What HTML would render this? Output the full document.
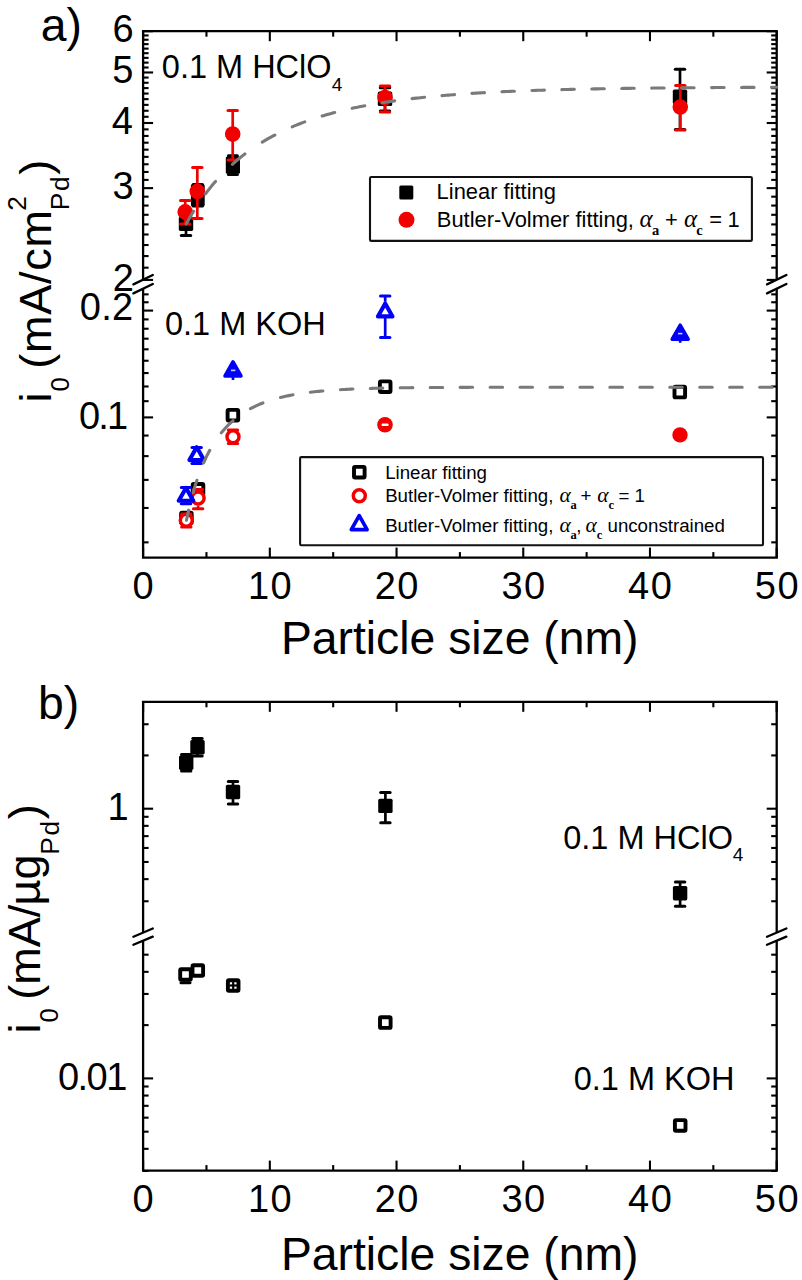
<!DOCTYPE html>
<html><head><meta charset="utf-8"><style>
html,body{margin:0;padding:0;background:#fff;}
svg{display:block;}
</style></head><body>
<svg width="802" height="1280" viewBox="0 0 802 1280">
<line x1="141.95" y1="31.20" x2="777.85" y2="31.20" stroke="#000" stroke-width="2.3" />
<line x1="141.95" y1="557.60" x2="777.85" y2="557.60" stroke="#000" stroke-width="2.3" />
<line x1="143.10" y1="31.20" x2="143.10" y2="279.60" stroke="#000" stroke-width="2.3" />
<line x1="143.10" y1="289.00" x2="143.10" y2="557.60" stroke="#000" stroke-width="2.3" />
<line x1="133.40" y1="284.40" x2="152.80" y2="275.00" stroke="#000" stroke-width="2.3" stroke-linecap="round"/>
<line x1="133.40" y1="293.40" x2="152.80" y2="284.00" stroke="#000" stroke-width="2.3" stroke-linecap="round"/>
<line x1="776.70" y1="31.20" x2="776.70" y2="279.60" stroke="#000" stroke-width="2.3" />
<line x1="776.70" y1="289.00" x2="776.70" y2="557.60" stroke="#000" stroke-width="2.3" />
<line x1="767.00" y1="284.40" x2="786.40" y2="275.00" stroke="#000" stroke-width="2.3" stroke-linecap="round"/>
<line x1="767.00" y1="293.40" x2="786.40" y2="284.00" stroke="#000" stroke-width="2.3" stroke-linecap="round"/>
<line x1="143.10" y1="557.60" x2="143.10" y2="547.60" stroke="#000" stroke-width="2.1" />
<line x1="143.10" y1="31.20" x2="143.10" y2="41.20" stroke="#000" stroke-width="2.1" />
<line x1="206.46" y1="557.60" x2="206.46" y2="552.10" stroke="#000" stroke-width="2.1" />
<line x1="206.46" y1="31.20" x2="206.46" y2="36.70" stroke="#000" stroke-width="2.1" />
<line x1="269.82" y1="557.60" x2="269.82" y2="547.60" stroke="#000" stroke-width="2.1" />
<line x1="269.82" y1="31.20" x2="269.82" y2="41.20" stroke="#000" stroke-width="2.1" />
<line x1="333.18" y1="557.60" x2="333.18" y2="552.10" stroke="#000" stroke-width="2.1" />
<line x1="333.18" y1="31.20" x2="333.18" y2="36.70" stroke="#000" stroke-width="2.1" />
<line x1="396.54" y1="557.60" x2="396.54" y2="547.60" stroke="#000" stroke-width="2.1" />
<line x1="396.54" y1="31.20" x2="396.54" y2="41.20" stroke="#000" stroke-width="2.1" />
<line x1="459.90" y1="557.60" x2="459.90" y2="552.10" stroke="#000" stroke-width="2.1" />
<line x1="459.90" y1="31.20" x2="459.90" y2="36.70" stroke="#000" stroke-width="2.1" />
<line x1="523.26" y1="557.60" x2="523.26" y2="547.60" stroke="#000" stroke-width="2.1" />
<line x1="523.26" y1="31.20" x2="523.26" y2="41.20" stroke="#000" stroke-width="2.1" />
<line x1="586.62" y1="557.60" x2="586.62" y2="552.10" stroke="#000" stroke-width="2.1" />
<line x1="586.62" y1="31.20" x2="586.62" y2="36.70" stroke="#000" stroke-width="2.1" />
<line x1="649.98" y1="557.60" x2="649.98" y2="547.60" stroke="#000" stroke-width="2.1" />
<line x1="649.98" y1="31.20" x2="649.98" y2="41.20" stroke="#000" stroke-width="2.1" />
<line x1="713.34" y1="557.60" x2="713.34" y2="552.10" stroke="#000" stroke-width="2.1" />
<line x1="713.34" y1="31.20" x2="713.34" y2="36.70" stroke="#000" stroke-width="2.1" />
<line x1="776.70" y1="557.60" x2="776.70" y2="547.60" stroke="#000" stroke-width="2.1" />
<line x1="776.70" y1="31.20" x2="776.70" y2="41.20" stroke="#000" stroke-width="2.1" />
<line x1="143.10" y1="279.92" x2="153.10" y2="279.92" stroke="#000" stroke-width="2.1" />
<line x1="776.70" y1="279.92" x2="766.70" y2="279.92" stroke="#000" stroke-width="2.1" />
<line x1="143.10" y1="267.68" x2="148.60" y2="267.68" stroke="#000" stroke-width="2.1" />
<line x1="776.70" y1="267.68" x2="771.20" y2="267.68" stroke="#000" stroke-width="2.1" />
<line x1="143.10" y1="256.07" x2="148.60" y2="256.07" stroke="#000" stroke-width="2.1" />
<line x1="776.70" y1="256.07" x2="771.20" y2="256.07" stroke="#000" stroke-width="2.1" />
<line x1="143.10" y1="245.02" x2="148.60" y2="245.02" stroke="#000" stroke-width="2.1" />
<line x1="776.70" y1="245.02" x2="771.20" y2="245.02" stroke="#000" stroke-width="2.1" />
<line x1="143.10" y1="234.49" x2="148.60" y2="234.49" stroke="#000" stroke-width="2.1" />
<line x1="776.70" y1="234.49" x2="771.20" y2="234.49" stroke="#000" stroke-width="2.1" />
<line x1="143.10" y1="224.43" x2="148.60" y2="224.43" stroke="#000" stroke-width="2.1" />
<line x1="776.70" y1="224.43" x2="771.20" y2="224.43" stroke="#000" stroke-width="2.1" />
<line x1="143.10" y1="214.79" x2="148.60" y2="214.79" stroke="#000" stroke-width="2.1" />
<line x1="776.70" y1="214.79" x2="771.20" y2="214.79" stroke="#000" stroke-width="2.1" />
<line x1="143.10" y1="205.55" x2="148.60" y2="205.55" stroke="#000" stroke-width="2.1" />
<line x1="776.70" y1="205.55" x2="771.20" y2="205.55" stroke="#000" stroke-width="2.1" />
<line x1="143.10" y1="196.67" x2="148.60" y2="196.67" stroke="#000" stroke-width="2.1" />
<line x1="776.70" y1="196.67" x2="771.20" y2="196.67" stroke="#000" stroke-width="2.1" />
<line x1="143.10" y1="188.13" x2="153.10" y2="188.13" stroke="#000" stroke-width="2.1" />
<line x1="776.70" y1="188.13" x2="766.70" y2="188.13" stroke="#000" stroke-width="2.1" />
<line x1="143.10" y1="179.89" x2="148.60" y2="179.89" stroke="#000" stroke-width="2.1" />
<line x1="776.70" y1="179.89" x2="771.20" y2="179.89" stroke="#000" stroke-width="2.1" />
<line x1="143.10" y1="171.95" x2="148.60" y2="171.95" stroke="#000" stroke-width="2.1" />
<line x1="776.70" y1="171.95" x2="771.20" y2="171.95" stroke="#000" stroke-width="2.1" />
<line x1="143.10" y1="164.27" x2="148.60" y2="164.27" stroke="#000" stroke-width="2.1" />
<line x1="776.70" y1="164.27" x2="771.20" y2="164.27" stroke="#000" stroke-width="2.1" />
<line x1="143.10" y1="156.85" x2="148.60" y2="156.85" stroke="#000" stroke-width="2.1" />
<line x1="776.70" y1="156.85" x2="771.20" y2="156.85" stroke="#000" stroke-width="2.1" />
<line x1="143.10" y1="149.66" x2="148.60" y2="149.66" stroke="#000" stroke-width="2.1" />
<line x1="776.70" y1="149.66" x2="771.20" y2="149.66" stroke="#000" stroke-width="2.1" />
<line x1="143.10" y1="142.70" x2="148.60" y2="142.70" stroke="#000" stroke-width="2.1" />
<line x1="776.70" y1="142.70" x2="771.20" y2="142.70" stroke="#000" stroke-width="2.1" />
<line x1="143.10" y1="135.94" x2="148.60" y2="135.94" stroke="#000" stroke-width="2.1" />
<line x1="776.70" y1="135.94" x2="771.20" y2="135.94" stroke="#000" stroke-width="2.1" />
<line x1="143.10" y1="129.37" x2="148.60" y2="129.37" stroke="#000" stroke-width="2.1" />
<line x1="776.70" y1="129.37" x2="771.20" y2="129.37" stroke="#000" stroke-width="2.1" />
<line x1="143.10" y1="123.00" x2="153.10" y2="123.00" stroke="#000" stroke-width="2.1" />
<line x1="776.70" y1="123.00" x2="766.70" y2="123.00" stroke="#000" stroke-width="2.1" />
<line x1="143.10" y1="116.79" x2="148.60" y2="116.79" stroke="#000" stroke-width="2.1" />
<line x1="776.70" y1="116.79" x2="771.20" y2="116.79" stroke="#000" stroke-width="2.1" />
<line x1="143.10" y1="110.76" x2="148.60" y2="110.76" stroke="#000" stroke-width="2.1" />
<line x1="776.70" y1="110.76" x2="771.20" y2="110.76" stroke="#000" stroke-width="2.1" />
<line x1="143.10" y1="104.87" x2="148.60" y2="104.87" stroke="#000" stroke-width="2.1" />
<line x1="776.70" y1="104.87" x2="771.20" y2="104.87" stroke="#000" stroke-width="2.1" />
<line x1="143.10" y1="99.14" x2="148.60" y2="99.14" stroke="#000" stroke-width="2.1" />
<line x1="776.70" y1="99.14" x2="771.20" y2="99.14" stroke="#000" stroke-width="2.1" />
<line x1="143.10" y1="93.55" x2="148.60" y2="93.55" stroke="#000" stroke-width="2.1" />
<line x1="776.70" y1="93.55" x2="771.20" y2="93.55" stroke="#000" stroke-width="2.1" />
<line x1="143.10" y1="88.10" x2="148.60" y2="88.10" stroke="#000" stroke-width="2.1" />
<line x1="776.70" y1="88.10" x2="771.20" y2="88.10" stroke="#000" stroke-width="2.1" />
<line x1="143.10" y1="82.77" x2="148.60" y2="82.77" stroke="#000" stroke-width="2.1" />
<line x1="776.70" y1="82.77" x2="771.20" y2="82.77" stroke="#000" stroke-width="2.1" />
<line x1="143.10" y1="77.56" x2="148.60" y2="77.56" stroke="#000" stroke-width="2.1" />
<line x1="776.70" y1="77.56" x2="771.20" y2="77.56" stroke="#000" stroke-width="2.1" />
<line x1="143.10" y1="72.48" x2="153.10" y2="72.48" stroke="#000" stroke-width="2.1" />
<line x1="776.70" y1="72.48" x2="766.70" y2="72.48" stroke="#000" stroke-width="2.1" />
<line x1="143.10" y1="67.50" x2="148.60" y2="67.50" stroke="#000" stroke-width="2.1" />
<line x1="776.70" y1="67.50" x2="771.20" y2="67.50" stroke="#000" stroke-width="2.1" />
<line x1="143.10" y1="62.63" x2="148.60" y2="62.63" stroke="#000" stroke-width="2.1" />
<line x1="776.70" y1="62.63" x2="771.20" y2="62.63" stroke="#000" stroke-width="2.1" />
<line x1="143.10" y1="57.87" x2="148.60" y2="57.87" stroke="#000" stroke-width="2.1" />
<line x1="776.70" y1="57.87" x2="771.20" y2="57.87" stroke="#000" stroke-width="2.1" />
<line x1="143.10" y1="53.20" x2="148.60" y2="53.20" stroke="#000" stroke-width="2.1" />
<line x1="776.70" y1="53.20" x2="771.20" y2="53.20" stroke="#000" stroke-width="2.1" />
<line x1="143.10" y1="48.62" x2="148.60" y2="48.62" stroke="#000" stroke-width="2.1" />
<line x1="776.70" y1="48.62" x2="771.20" y2="48.62" stroke="#000" stroke-width="2.1" />
<line x1="143.10" y1="44.14" x2="148.60" y2="44.14" stroke="#000" stroke-width="2.1" />
<line x1="776.70" y1="44.14" x2="771.20" y2="44.14" stroke="#000" stroke-width="2.1" />
<line x1="143.10" y1="39.74" x2="148.60" y2="39.74" stroke="#000" stroke-width="2.1" />
<line x1="776.70" y1="39.74" x2="771.20" y2="39.74" stroke="#000" stroke-width="2.1" />
<line x1="143.10" y1="35.43" x2="148.60" y2="35.43" stroke="#000" stroke-width="2.1" />
<line x1="776.70" y1="35.43" x2="771.20" y2="35.43" stroke="#000" stroke-width="2.1" />
<line x1="143.10" y1="31.20" x2="153.10" y2="31.20" stroke="#000" stroke-width="2.1" />
<line x1="776.70" y1="31.20" x2="766.70" y2="31.20" stroke="#000" stroke-width="2.1" />
<line x1="143.10" y1="542.35" x2="148.60" y2="542.35" stroke="#000" stroke-width="2.1" />
<line x1="776.70" y1="542.35" x2="771.20" y2="542.35" stroke="#000" stroke-width="2.1" />
<line x1="143.10" y1="507.97" x2="148.60" y2="507.97" stroke="#000" stroke-width="2.1" />
<line x1="776.70" y1="507.97" x2="771.20" y2="507.97" stroke="#000" stroke-width="2.1" />
<line x1="143.10" y1="479.88" x2="148.60" y2="479.88" stroke="#000" stroke-width="2.1" />
<line x1="776.70" y1="479.88" x2="771.20" y2="479.88" stroke="#000" stroke-width="2.1" />
<line x1="143.10" y1="456.12" x2="148.60" y2="456.12" stroke="#000" stroke-width="2.1" />
<line x1="776.70" y1="456.12" x2="771.20" y2="456.12" stroke="#000" stroke-width="2.1" />
<line x1="143.10" y1="435.55" x2="148.60" y2="435.55" stroke="#000" stroke-width="2.1" />
<line x1="776.70" y1="435.55" x2="771.20" y2="435.55" stroke="#000" stroke-width="2.1" />
<line x1="143.10" y1="417.40" x2="153.10" y2="417.40" stroke="#000" stroke-width="2.1" />
<line x1="776.70" y1="417.40" x2="766.70" y2="417.40" stroke="#000" stroke-width="2.1" />
<line x1="143.10" y1="401.17" x2="148.60" y2="401.17" stroke="#000" stroke-width="2.1" />
<line x1="776.70" y1="401.17" x2="771.20" y2="401.17" stroke="#000" stroke-width="2.1" />
<line x1="143.10" y1="386.48" x2="148.60" y2="386.48" stroke="#000" stroke-width="2.1" />
<line x1="776.70" y1="386.48" x2="771.20" y2="386.48" stroke="#000" stroke-width="2.1" />
<line x1="143.10" y1="373.07" x2="148.60" y2="373.07" stroke="#000" stroke-width="2.1" />
<line x1="776.70" y1="373.07" x2="771.20" y2="373.07" stroke="#000" stroke-width="2.1" />
<line x1="143.10" y1="360.74" x2="148.60" y2="360.74" stroke="#000" stroke-width="2.1" />
<line x1="776.70" y1="360.74" x2="771.20" y2="360.74" stroke="#000" stroke-width="2.1" />
<line x1="143.10" y1="349.32" x2="148.60" y2="349.32" stroke="#000" stroke-width="2.1" />
<line x1="776.70" y1="349.32" x2="771.20" y2="349.32" stroke="#000" stroke-width="2.1" />
<line x1="143.10" y1="338.69" x2="148.60" y2="338.69" stroke="#000" stroke-width="2.1" />
<line x1="776.70" y1="338.69" x2="771.20" y2="338.69" stroke="#000" stroke-width="2.1" />
<line x1="143.10" y1="328.74" x2="148.60" y2="328.74" stroke="#000" stroke-width="2.1" />
<line x1="776.70" y1="328.74" x2="771.20" y2="328.74" stroke="#000" stroke-width="2.1" />
<line x1="143.10" y1="319.40" x2="148.60" y2="319.40" stroke="#000" stroke-width="2.1" />
<line x1="776.70" y1="319.40" x2="771.20" y2="319.40" stroke="#000" stroke-width="2.1" />
<line x1="143.10" y1="310.59" x2="153.10" y2="310.59" stroke="#000" stroke-width="2.1" />
<line x1="776.70" y1="310.59" x2="766.70" y2="310.59" stroke="#000" stroke-width="2.1" />
<line x1="143.10" y1="302.26" x2="148.60" y2="302.26" stroke="#000" stroke-width="2.1" />
<line x1="776.70" y1="302.26" x2="771.20" y2="302.26" stroke="#000" stroke-width="2.1" />
<line x1="143.10" y1="294.36" x2="148.60" y2="294.36" stroke="#000" stroke-width="2.1" />
<line x1="776.70" y1="294.36" x2="771.20" y2="294.36" stroke="#000" stroke-width="2.1" />
<text x="133.57" y="41.80" font-family="Liberation Sans" font-size="38" text-anchor="end" >6</text>
<text x="133.50" y="82.80" font-family="Liberation Sans" font-size="38" text-anchor="end" >5</text>
<text x="133.01" y="134.10" font-family="Liberation Sans" font-size="38" text-anchor="end" >4</text>
<text x="133.57" y="198.50" font-family="Liberation Sans" font-size="38" text-anchor="end" >3</text>
<text x="133.81" y="290.50" font-family="Liberation Sans" font-size="38" text-anchor="end" >2</text>
<text x="79.72" y="320.10" font-family="Liberation Sans" font-size="38" text-anchor="start" textLength="53.42" lengthAdjust="spacing" >0.2</text>
<text x="79.02" y="428.80" font-family="Liberation Sans" font-size="38" text-anchor="start" textLength="49.02" lengthAdjust="spacing" >0.1</text>
<text x="143.10" y="598.80" font-family="Liberation Sans" font-size="38" text-anchor="middle" >0</text>
<text x="269.82" y="598.80" font-family="Liberation Sans" font-size="38" text-anchor="middle" textLength="43.76" lengthAdjust="spacing" >10</text>
<text x="396.54" y="598.80" font-family="Liberation Sans" font-size="38" text-anchor="middle" textLength="43.76" lengthAdjust="spacing" >20</text>
<text x="523.26" y="598.80" font-family="Liberation Sans" font-size="38" text-anchor="middle" textLength="43.76" lengthAdjust="spacing" >30</text>
<text x="649.98" y="598.80" font-family="Liberation Sans" font-size="38" text-anchor="middle" textLength="43.76" lengthAdjust="spacing" >40</text>
<text x="776.70" y="598.80" font-family="Liberation Sans" font-size="38" text-anchor="middle" textLength="43.76" lengthAdjust="spacing" >50</text>
<text x="280.90" y="653.90" font-family="Liberation Sans" font-size="46.3" text-anchor="start" >Particle size (nm)</text>
<text x="40.73" y="40.60" font-family="Liberation Sans" font-size="46.3" text-anchor="start" >a)</text>
<g transform="translate(50.5,400) rotate(-90)"><text x="-2.51" y="0" font-family="Liberation Sans" font-size="45">i</text><text x="8.50" y="18.3" font-family="Liberation Sans" font-size="25.5">0</text><text x="31.21" y="0" font-family="Liberation Sans" font-size="45" textLength="158.8" lengthAdjust="spacing">(mA/cm</text><text x="189.28" y="-24.2" font-family="Liberation Sans" font-size="26.3">2</text><text x="189.84" y="18.6" font-family="Liberation Sans" font-size="26.3" textLength="33.9" lengthAdjust="spacing">Pd</text><text x="225.34" y="0" font-family="Liberation Sans" font-size="45">)</text></g>
<text x="161.83" y="77.60" font-family="Liberation Sans" font-size="32.5" text-anchor="start" >0.1 M HClO</text>
<text x="331.66" y="90.80" font-family="Liberation Sans" font-size="19" text-anchor="start" >4</text>
<text x="164.93" y="335.10" font-family="Liberation Sans" font-size="32.5" text-anchor="start" >0.1 M KOH</text>
<line x1="186.00" y1="212.00" x2="186.00" y2="235.60" stroke="#000" stroke-width="2.7" />
<line x1="181.30" y1="212.00" x2="190.70" y2="212.00" stroke="#000" stroke-width="3.0" stroke-linecap="round"/>
<line x1="181.30" y1="235.60" x2="190.70" y2="235.60" stroke="#000" stroke-width="3.0" stroke-linecap="round"/>
<rect x="178.80" y="216.50" width="14.4" height="14.4" rx="1.6" fill="#000"/>
<line x1="385.00" y1="87.80" x2="385.00" y2="111.00" stroke="#000" stroke-width="2.7" />
<line x1="380.30" y1="87.80" x2="389.70" y2="87.80" stroke="#000" stroke-width="3.0" stroke-linecap="round"/>
<line x1="380.30" y1="111.00" x2="389.70" y2="111.00" stroke="#000" stroke-width="3.0" stroke-linecap="round"/>
<rect x="377.80" y="91.60" width="14.4" height="14.4" rx="1.6" fill="#000"/>
<line x1="680.00" y1="69.30" x2="680.00" y2="129.50" stroke="#000" stroke-width="2.7" />
<line x1="675.30" y1="69.30" x2="684.70" y2="69.30" stroke="#000" stroke-width="3.0" stroke-linecap="round"/>
<line x1="675.30" y1="129.50" x2="684.70" y2="129.50" stroke="#000" stroke-width="3.0" stroke-linecap="round"/>
<rect x="672.80" y="89.60" width="14.4" height="14.4" rx="1.6" fill="#000"/>
<rect x="190.9" y="184.2" width="13.8" height="22.2" rx="1.6" fill="#000"/>
<line x1="197.80" y1="184.60" x2="197.80" y2="206.10" stroke="#000" stroke-width="2.7" />
<line x1="193.10" y1="184.60" x2="202.50" y2="184.60" stroke="#000" stroke-width="3.0" stroke-linecap="round"/>
<line x1="193.10" y1="206.10" x2="202.50" y2="206.10" stroke="#000" stroke-width="3.0" stroke-linecap="round"/>
<rect x="225.8" y="156.4" width="14.2" height="17.4" rx="1.6" fill="#000"/>
<line x1="232.90" y1="155.80" x2="232.90" y2="174.50" stroke="#000" stroke-width="2.7" />
<line x1="228.40" y1="155.80" x2="237.40" y2="155.80" stroke="#000" stroke-width="3.0" stroke-linecap="round"/>
<line x1="228.40" y1="174.50" x2="237.40" y2="174.50" stroke="#000" stroke-width="3.0" stroke-linecap="round"/>
<line x1="185.20" y1="200.60" x2="185.20" y2="224.00" stroke="#f20000" stroke-width="2.7" />
<line x1="180.50" y1="200.60" x2="189.90" y2="200.60" stroke="#f20000" stroke-width="3.0" stroke-linecap="round"/>
<line x1="180.50" y1="224.00" x2="189.90" y2="224.00" stroke="#f20000" stroke-width="3.0" stroke-linecap="round"/>
<circle cx="185.20" cy="211.90" r="7.8" fill="#f20000"/>
<line x1="197.30" y1="167.50" x2="197.30" y2="218.40" stroke="#f20000" stroke-width="2.7" />
<line x1="192.60" y1="167.50" x2="202.00" y2="167.50" stroke="#f20000" stroke-width="3.0" stroke-linecap="round"/>
<line x1="192.60" y1="218.40" x2="202.00" y2="218.40" stroke="#f20000" stroke-width="3.0" stroke-linecap="round"/>
<circle cx="197.30" cy="191.40" r="7.8" fill="#f20000"/>
<line x1="232.70" y1="110.50" x2="232.70" y2="160.00" stroke="#f20000" stroke-width="2.7" />
<line x1="228.00" y1="110.50" x2="237.40" y2="110.50" stroke="#f20000" stroke-width="3.0" stroke-linecap="round"/>
<line x1="228.00" y1="160.00" x2="237.40" y2="160.00" stroke="#f20000" stroke-width="3.0" stroke-linecap="round"/>
<circle cx="232.70" cy="134.10" r="7.8" fill="#f20000"/>
<line x1="385.00" y1="86.00" x2="385.00" y2="112.00" stroke="#f20000" stroke-width="2.7" />
<line x1="380.30" y1="86.00" x2="389.70" y2="86.00" stroke="#f20000" stroke-width="3.0" stroke-linecap="round"/>
<line x1="380.30" y1="112.00" x2="389.70" y2="112.00" stroke="#f20000" stroke-width="3.0" stroke-linecap="round"/>
<circle cx="385.00" cy="97.50" r="7.8" fill="#f20000"/>
<line x1="680.30" y1="85.40" x2="680.30" y2="130.00" stroke="#f20000" stroke-width="2.7" />
<line x1="675.60" y1="85.40" x2="685.00" y2="85.40" stroke="#f20000" stroke-width="3.0" stroke-linecap="round"/>
<line x1="675.60" y1="130.00" x2="685.00" y2="130.00" stroke="#f20000" stroke-width="3.0" stroke-linecap="round"/>
<circle cx="680.30" cy="107.00" r="7.8" fill="#f20000"/>
<rect x="181.10" y="512.70" width="10.6" height="10.6" rx="1" fill="#fff" stroke="#000" stroke-width="3.9"/>
<rect x="192.70" y="484.00" width="10.6" height="10.6" rx="1" fill="#fff" stroke="#000" stroke-width="3.9"/>
<rect x="227.60" y="409.90" width="10.6" height="10.6" rx="1" fill="#fff" stroke="#000" stroke-width="3.9"/>
<rect x="379.90" y="381.40" width="10.6" height="10.6" rx="1" fill="#fff" stroke="#000" stroke-width="3.9"/>
<rect x="674.50" y="386.80" width="10.6" height="10.6" rx="1" fill="#fff" stroke="#000" stroke-width="3.9"/>
<line x1="181.60" y1="514.00" x2="191.00" y2="514.00" stroke="#f20000" stroke-width="3.0" stroke-linecap="round"/>
<line x1="181.60" y1="527.00" x2="191.00" y2="527.00" stroke="#f20000" stroke-width="3.0" stroke-linecap="round"/>
<circle cx="186.30" cy="520.20" r="6.0" fill="#fff" stroke="#f20000" stroke-width="3.5"/>
<line x1="198.10" y1="489.50" x2="198.10" y2="490.60" stroke="#f20000" stroke-width="2.7" />
<line x1="198.10" y1="505.60" x2="198.10" y2="508.70" stroke="#f20000" stroke-width="2.7" />
<line x1="193.40" y1="489.50" x2="202.80" y2="489.50" stroke="#f20000" stroke-width="3.0" stroke-linecap="round"/>
<line x1="193.40" y1="508.70" x2="202.80" y2="508.70" stroke="#f20000" stroke-width="3.0" stroke-linecap="round"/>
<circle cx="198.10" cy="498.10" r="6.0" fill="#fff" stroke="#f20000" stroke-width="3.5"/>
<line x1="228.30" y1="430.00" x2="237.70" y2="430.00" stroke="#f20000" stroke-width="3.0" stroke-linecap="round"/>
<line x1="228.30" y1="443.50" x2="237.70" y2="443.50" stroke="#f20000" stroke-width="3.0" stroke-linecap="round"/>
<circle cx="233.00" cy="436.70" r="6.0" fill="#fff" stroke="#f20000" stroke-width="3.5"/>
<circle cx="385.00" cy="424.80" r="7.8" fill="#f20000"/>
<rect x="381.6" y="423.6" width="7" height="2.5" rx="0.8" fill="#fff"/>
<circle cx="680.00" cy="434.90" r="7.7" fill="#f20000"/>
<line x1="186.00" y1="502.40" x2="186.00" y2="503.70" stroke="#0000f5" stroke-width="2.7" />
<line x1="181.30" y1="487.40" x2="190.70" y2="487.40" stroke="#0000f5" stroke-width="3.0" stroke-linecap="round"/>
<line x1="181.30" y1="503.70" x2="190.70" y2="503.70" stroke="#0000f5" stroke-width="3.0" stroke-linecap="round"/>
<path d="M186.00 487.90 L193.30 500.80 L178.70 500.80 Z" fill="#fff" stroke="#0000f5" stroke-width="4.1" stroke-linejoin="round"/>
<line x1="196.70" y1="461.70" x2="196.70" y2="463.60" stroke="#0000f5" stroke-width="2.7" />
<line x1="192.00" y1="447.60" x2="201.40" y2="447.60" stroke="#0000f5" stroke-width="3.0" stroke-linecap="round"/>
<line x1="192.00" y1="463.60" x2="201.40" y2="463.60" stroke="#0000f5" stroke-width="3.0" stroke-linecap="round"/>
<path d="M196.70 447.20 L204.00 460.10 L189.40 460.10 Z" fill="#fff" stroke="#0000f5" stroke-width="4.1" stroke-linejoin="round"/>
<line x1="385.20" y1="295.90" x2="385.20" y2="301.70" stroke="#0000f5" stroke-width="2.7" />
<line x1="385.20" y1="318.00" x2="385.20" y2="337.50" stroke="#0000f5" stroke-width="2.7" />
<line x1="380.50" y1="295.90" x2="389.90" y2="295.90" stroke="#0000f5" stroke-width="3.0" stroke-linecap="round"/>
<line x1="380.50" y1="337.50" x2="389.90" y2="337.50" stroke="#0000f5" stroke-width="3.0" stroke-linecap="round"/>
<path d="M385.20 303.50 L392.50 316.40 L377.90 316.40 Z" fill="#fff" stroke="#0000f5" stroke-width="4.1" stroke-linejoin="round"/>
<path d="M233.00 362.00 L240.90 375.90 L225.10 375.90 Z" fill="#0000f5" stroke="#0000f5" stroke-width="3.7" stroke-linejoin="round"/>
<rect x="231" y="369.6" width="4.4" height="1.6" fill="#fff" opacity="0.8"/>
<line x1="233.00" y1="376.00" x2="233.00" y2="380.00" stroke="#0000f5" stroke-width="2.7" />
<path d="M680.20 325.30 L688.10 339.20 L672.30 339.20 Z" fill="#0000f5" stroke="#0000f5" stroke-width="3.7" stroke-linejoin="round"/>
<rect x="678" y="332.8" width="4.4" height="1.6" fill="#fff" opacity="0.8"/>
<line x1="680.20" y1="339.00" x2="680.20" y2="342.80" stroke="#0000f5" stroke-width="2.7" />
<path d="M186.30 223.84 L187.48 221.69 L188.66 219.59 L189.84 217.54 L191.02 215.52 L192.20 213.54 L193.38 211.61 L193.58 211.29 M205.50 193.80 L207.17 191.60 L208.84 189.46 L210.52 187.37 L212.19 185.33 L213.87 183.34 L215.54 181.40 L215.54 181.40 M232.38 164.31 L234.45 162.48 L236.51 160.70 L238.58 158.96 L240.65 157.28 L242.72 155.64 L244.78 154.04 L244.88 153.96 M262.31 142.09 L264.38 140.85 L266.45 139.64 L268.51 138.45 L270.58 137.30 L272.65 136.18 L274.72 135.08 L274.82 135.03 M292.25 126.81 L294.31 125.94 L296.38 125.10 L298.45 124.27 L300.52 123.46 L302.58 122.67 L304.65 121.90 L304.75 121.86 M322.18 116.04 L324.25 115.42 L326.31 114.82 L328.38 114.23 L330.45 113.65 L332.52 113.08 L334.59 112.53 L334.68 112.51 M352.21 108.30 L354.28 107.85 L356.35 107.41 L358.41 106.99 L360.48 106.57 L362.55 106.16 L364.62 105.76 L364.72 105.74 M382.15 102.70 L384.21 102.38 L386.28 102.06 L388.35 101.75 L390.42 101.44 L392.48 101.15 L394.55 100.85 L394.65 100.84 M412.08 98.62 L414.15 98.38 L416.21 98.14 L418.28 97.92 L420.35 97.69 L422.42 97.47 L424.49 97.26 L424.58 97.25 M442.01 95.61 L444.08 95.43 L446.15 95.26 L448.22 95.09 L450.28 94.93 L452.35 94.77 L454.42 94.61 L454.52 94.60 M471.95 93.39 L474.01 93.26 L476.08 93.14 L478.15 93.01 L480.22 92.89 L482.29 92.77 L484.35 92.65 L484.45 92.65 M501.88 91.75 L503.95 91.65 L506.02 91.56 L508.08 91.47 L510.15 91.38 L512.22 91.29 L514.29 91.20 L514.39 91.20 M531.91 90.53 L533.98 90.46 L536.05 90.39 L538.12 90.32 L540.18 90.25 L542.25 90.18 L544.32 90.12 L544.42 90.12 M561.85 89.62 L563.91 89.57 L565.98 89.52 L568.05 89.47 L570.12 89.42 L572.19 89.37 L574.25 89.32 L574.35 89.32 M591.78 88.95 L593.85 88.91 L595.92 88.87 L597.98 88.83 L600.05 88.80 L602.12 88.76 L604.19 88.72 L604.29 88.72 M621.71 88.45 L623.78 88.42 L625.85 88.39 L627.92 88.36 L629.99 88.33 L632.05 88.31 L634.12 88.28 L634.22 88.28 M651.65 88.08 L653.72 88.05 L655.78 88.03 L657.85 88.01 L659.92 87.99 L661.99 87.97 L664.05 87.95 L664.15 87.95 M681.58 87.80 L683.65 87.78 L685.72 87.76 L687.78 87.75 L689.85 87.73 L691.92 87.72 L693.99 87.70 L694.09 87.70 M711.61 87.59 L713.68 87.58 L715.75 87.56 L717.82 87.55 L719.88 87.54 L721.95 87.53 L724.02 87.52 L724.12 87.52 M741.55 87.43 L743.62 87.42 L745.68 87.42 L747.75 87.41 L749.82 87.40 L751.89 87.39 L753.95 87.38 L754.05 87.38 M771.48 87.32 L772.37 87.31 L773.25 87.31 L774.14 87.31 L775.03 87.31 L775.91 87.30 L776.70 87.30" fill="none" stroke="#7a7a7a" stroke-width="3.1" stroke-linecap="round" stroke-linejoin="round"/>
<path d="M186.50 520.24 L186.80 518.80 L187.09 517.38 L187.39 515.98 L187.68 514.60 L187.98 513.25 L188.27 511.91 L188.57 510.60 L188.66 510.17 M193.09 492.72 L193.68 490.66 L194.27 488.65 L194.86 486.70 L195.45 484.80 L196.04 482.94 L196.63 481.14 L196.93 480.25 M203.62 462.80 L204.60 460.60 L205.59 458.48 L206.57 456.44 L207.55 454.47 L208.54 452.56 L209.52 450.73 L209.72 450.37 M221.33 432.86 L223.30 430.50 L225.26 428.27 L227.23 426.17 L229.20 424.19 L231.17 422.33 L233.04 420.65 M250.45 408.65 L252.52 407.57 L254.58 406.55 L256.65 405.58 L258.71 404.67 L260.78 403.80 L262.85 402.97 L262.94 402.94 M280.46 397.48 L282.52 396.98 L284.59 396.50 L286.65 396.05 L288.72 395.62 L290.79 395.22 L292.85 394.83 L292.95 394.81 M310.36 392.23 L312.43 391.99 L314.50 391.76 L316.56 391.54 L318.63 391.34 L320.69 391.14 L322.76 390.95 L322.86 390.94 M340.37 389.68 L342.44 389.56 L344.50 389.45 L346.57 389.34 L348.64 389.24 L350.70 389.14 L352.77 389.05 L352.87 389.05 M370.28 388.43 L372.35 388.37 L374.41 388.32 L376.48 388.26 L378.54 388.21 L380.61 388.17 L382.68 388.12 L382.77 388.12 M400.19 387.81 L402.25 387.78 L404.32 387.76 L406.39 387.73 L408.45 387.71 L410.52 387.68 L412.58 387.66 L412.78 387.66 M430.19 387.51 L432.26 387.49 L434.33 387.48 L436.39 387.47 L438.46 387.45 L440.53 387.44 L442.59 387.43 L442.69 387.43 M460.10 387.35 L462.17 387.35 L464.24 387.34 L466.30 387.33 L468.37 387.33 L470.43 387.32 L472.50 387.32 L472.60 387.32 M490.11 387.28 L492.18 387.28 L494.24 387.27 L496.31 387.27 L498.37 387.27 L500.44 387.26 L502.51 387.26 L502.60 387.26 M520.02 387.24 L522.08 387.24 L524.15 387.24 L526.22 387.24 L528.28 387.24 L530.35 387.23 L532.41 387.23 L532.51 387.23 M550.03 387.22 L552.09 387.22 L554.16 387.22 L556.22 387.22 L558.29 387.22 L560.36 387.22 L562.42 387.22 L562.52 387.22 M579.93 387.21 L582.00 387.21 L584.07 387.21 L586.13 387.21 L588.20 387.21 L590.26 387.21 L592.33 387.21 L592.43 387.21 M609.84 387.21 L611.91 387.21 L613.97 387.21 L616.04 387.21 L618.11 387.21 L620.17 387.21 L622.24 387.21 L622.44 387.21 M639.85 387.21 L641.92 387.21 L643.98 387.21 L646.05 387.21 L648.11 387.21 L650.18 387.21 L652.25 387.21 L652.34 387.21 M669.76 387.21 L671.82 387.21 L673.89 387.21 L675.96 387.21 L678.02 387.21 L680.09 387.21 L682.15 387.21 L682.25 387.21 M699.76 387.21 L701.83 387.21 L703.90 387.21 L705.96 387.21 L708.03 387.21 L710.09 387.21 L712.16 387.21 L712.26 387.21 M729.67 387.21 L731.74 387.21 L733.80 387.21 L735.87 387.21 L737.94 387.21 L740.00 387.21 L742.07 387.21 L742.17 387.21 M759.68 387.21 L761.75 387.21 L763.81 387.21 L765.88 387.21 L767.94 387.21 L770.01 387.21 L772.08 387.21 L772.17 387.21" fill="none" stroke="#7a7a7a" stroke-width="3.1" stroke-linecap="round" stroke-linejoin="round"/>
<rect x="370" y="177.05" width="381.9" height="63.85" rx="1.2" fill="#fff" stroke="#111" stroke-width="2.1"/>
<rect x="399.30" y="185.50" width="14" height="14" rx="1.6" fill="#000"/>
<circle cx="406.50" cy="219.80" r="8" fill="#f20000"/>
<text x="436.60" y="199.30" font-family="Liberation Sans" font-size="21.9" text-anchor="start" >Linear fitting</text>
<text x="436.80" y="227.20" font-family="Liberation Sans" font-size="21.9" text-anchor="start" >Butler-Volmer fitting,</text>
<text x="639.46" y="227.20" font-family="Liberation Serif" font-size="25" text-anchor="start"  font-style="italic">α</text>
<text x="651.93" y="235.40" font-family="Liberation Serif" font-size="14.5" text-anchor="start"  font-weight="bold">a</text>
<text x="664.93" y="227.20" font-family="Liberation Sans" font-size="21.9" text-anchor="start" >+</text>
<text x="684.06" y="227.20" font-family="Liberation Serif" font-size="25" text-anchor="start"  font-style="italic">α</text>
<text x="696.30" y="235.40" font-family="Liberation Serif" font-size="14.5" text-anchor="start"  font-weight="bold">c</text>
<text x="709.33" y="227.20" font-family="Liberation Sans" font-size="21.9" text-anchor="start" >=</text>
<text x="727.43" y="227.20" font-family="Liberation Sans" font-size="21.9" text-anchor="start" >1</text>
<rect x="300.1" y="457.15" width="462.9" height="88.15" rx="1.2" fill="#fff" stroke="#111" stroke-width="2.1"/>
<rect x="354.00" y="466.90" width="10.6" height="10.6" rx="1" fill="#fff" stroke="#000" stroke-width="3.9"/>
<circle cx="359.30" cy="495.80" r="6.0" fill="#fff" stroke="#f20000" stroke-width="3.5"/>
<path d="M359.20 515.70 L367.10 529.60 L351.30 529.60 Z" fill="#fff" stroke="#0000f5" stroke-width="3.7" stroke-linejoin="round"/>
<text x="385.17" y="478.70" font-family="Liberation Sans" font-size="18.7" text-anchor="start" >Linear fitting</text>
<text x="385.17" y="501.60" font-family="Liberation Sans" font-size="18.7" text-anchor="start" >Butler-Volmer fitting,</text>
<text x="559.46" y="501.60" font-family="Liberation Serif" font-size="21.5" text-anchor="start"  font-style="italic">α</text>
<text x="570.40" y="509.10" font-family="Liberation Serif" font-size="12.5" text-anchor="start"  font-weight="bold">a</text>
<text x="580.59" y="501.60" font-family="Liberation Sans" font-size="18.7" text-anchor="start" >+</text>
<text x="597.36" y="501.60" font-family="Liberation Serif" font-size="21.5" text-anchor="start"  font-style="italic">α</text>
<text x="608.47" y="509.10" font-family="Liberation Serif" font-size="12.5" text-anchor="start"  font-weight="bold">c</text>
<text x="618.49" y="501.60" font-family="Liberation Sans" font-size="18.7" text-anchor="start" >=</text>
<text x="634.58" y="501.60" font-family="Liberation Sans" font-size="18.7" text-anchor="start" >1</text>
<text x="385.17" y="531.80" font-family="Liberation Sans" font-size="18.7" text-anchor="start" >Butler-Volmer fitting,</text>
<text x="559.46" y="531.80" font-family="Liberation Serif" font-size="21.5" text-anchor="start"  font-style="italic">α</text>
<text x="570.40" y="539.30" font-family="Liberation Serif" font-size="12.5" text-anchor="start"  font-weight="bold">a</text>
<text x="576.22" y="531.80" font-family="Liberation Sans" font-size="18.7" text-anchor="start" >,</text>
<text x="585.56" y="531.80" font-family="Liberation Serif" font-size="21.5" text-anchor="start"  font-style="italic">α</text>
<text x="596.67" y="539.30" font-family="Liberation Serif" font-size="12.5" text-anchor="start"  font-weight="bold">c</text>
<text x="607.49" y="531.80" font-family="Liberation Sans" font-size="18.7" text-anchor="start" >unconstrained</text>
<line x1="141.95" y1="701.80" x2="777.85" y2="701.80" stroke="#000" stroke-width="2.3" />
<line x1="141.95" y1="1170.60" x2="777.85" y2="1170.60" stroke="#000" stroke-width="2.3" />
<line x1="143.10" y1="701.80" x2="143.10" y2="932.00" stroke="#000" stroke-width="2.3" />
<line x1="143.10" y1="940.30" x2="143.10" y2="1170.60" stroke="#000" stroke-width="2.3" />
<line x1="133.40" y1="936.70" x2="152.80" y2="928.50" stroke="#000" stroke-width="2.3" stroke-linecap="round"/>
<line x1="133.40" y1="944.80" x2="152.80" y2="936.60" stroke="#000" stroke-width="2.3" stroke-linecap="round"/>
<line x1="776.70" y1="701.80" x2="776.70" y2="932.00" stroke="#000" stroke-width="2.3" />
<line x1="776.70" y1="940.30" x2="776.70" y2="1170.60" stroke="#000" stroke-width="2.3" />
<line x1="767.00" y1="936.70" x2="786.40" y2="928.50" stroke="#000" stroke-width="2.3" stroke-linecap="round"/>
<line x1="767.00" y1="944.80" x2="786.40" y2="936.60" stroke="#000" stroke-width="2.3" stroke-linecap="round"/>
<line x1="143.10" y1="1170.60" x2="143.10" y2="1160.60" stroke="#000" stroke-width="2.1" />
<line x1="143.10" y1="701.80" x2="143.10" y2="711.80" stroke="#000" stroke-width="2.1" />
<line x1="206.46" y1="1170.60" x2="206.46" y2="1165.10" stroke="#000" stroke-width="2.1" />
<line x1="206.46" y1="701.80" x2="206.46" y2="707.30" stroke="#000" stroke-width="2.1" />
<line x1="269.82" y1="1170.60" x2="269.82" y2="1160.60" stroke="#000" stroke-width="2.1" />
<line x1="269.82" y1="701.80" x2="269.82" y2="711.80" stroke="#000" stroke-width="2.1" />
<line x1="333.18" y1="1170.60" x2="333.18" y2="1165.10" stroke="#000" stroke-width="2.1" />
<line x1="333.18" y1="701.80" x2="333.18" y2="707.30" stroke="#000" stroke-width="2.1" />
<line x1="396.54" y1="1170.60" x2="396.54" y2="1160.60" stroke="#000" stroke-width="2.1" />
<line x1="396.54" y1="701.80" x2="396.54" y2="711.80" stroke="#000" stroke-width="2.1" />
<line x1="459.90" y1="1170.60" x2="459.90" y2="1165.10" stroke="#000" stroke-width="2.1" />
<line x1="459.90" y1="701.80" x2="459.90" y2="707.30" stroke="#000" stroke-width="2.1" />
<line x1="523.26" y1="1170.60" x2="523.26" y2="1160.60" stroke="#000" stroke-width="2.1" />
<line x1="523.26" y1="701.80" x2="523.26" y2="711.80" stroke="#000" stroke-width="2.1" />
<line x1="586.62" y1="1170.60" x2="586.62" y2="1165.10" stroke="#000" stroke-width="2.1" />
<line x1="586.62" y1="701.80" x2="586.62" y2="707.30" stroke="#000" stroke-width="2.1" />
<line x1="649.98" y1="1170.60" x2="649.98" y2="1160.60" stroke="#000" stroke-width="2.1" />
<line x1="649.98" y1="701.80" x2="649.98" y2="711.80" stroke="#000" stroke-width="2.1" />
<line x1="713.34" y1="1170.60" x2="713.34" y2="1165.10" stroke="#000" stroke-width="2.1" />
<line x1="713.34" y1="701.80" x2="713.34" y2="707.30" stroke="#000" stroke-width="2.1" />
<line x1="776.70" y1="1170.60" x2="776.70" y2="1160.60" stroke="#000" stroke-width="2.1" />
<line x1="776.70" y1="701.80" x2="776.70" y2="711.80" stroke="#000" stroke-width="2.1" />
<line x1="143.10" y1="901.25" x2="148.60" y2="901.25" stroke="#000" stroke-width="2.1" />
<line x1="776.70" y1="901.25" x2="771.20" y2="901.25" stroke="#000" stroke-width="2.1" />
<line x1="143.10" y1="879.14" x2="148.60" y2="879.14" stroke="#000" stroke-width="2.1" />
<line x1="776.70" y1="879.14" x2="771.20" y2="879.14" stroke="#000" stroke-width="2.1" />
<line x1="143.10" y1="861.98" x2="148.60" y2="861.98" stroke="#000" stroke-width="2.1" />
<line x1="776.70" y1="861.98" x2="771.20" y2="861.98" stroke="#000" stroke-width="2.1" />
<line x1="143.10" y1="847.97" x2="148.60" y2="847.97" stroke="#000" stroke-width="2.1" />
<line x1="776.70" y1="847.97" x2="771.20" y2="847.97" stroke="#000" stroke-width="2.1" />
<line x1="143.10" y1="836.12" x2="148.60" y2="836.12" stroke="#000" stroke-width="2.1" />
<line x1="776.70" y1="836.12" x2="771.20" y2="836.12" stroke="#000" stroke-width="2.1" />
<line x1="143.10" y1="825.85" x2="148.60" y2="825.85" stroke="#000" stroke-width="2.1" />
<line x1="776.70" y1="825.85" x2="771.20" y2="825.85" stroke="#000" stroke-width="2.1" />
<line x1="143.10" y1="816.80" x2="148.60" y2="816.80" stroke="#000" stroke-width="2.1" />
<line x1="776.70" y1="816.80" x2="771.20" y2="816.80" stroke="#000" stroke-width="2.1" />
<line x1="143.10" y1="808.70" x2="153.10" y2="808.70" stroke="#000" stroke-width="2.1" />
<line x1="776.70" y1="808.70" x2="766.70" y2="808.70" stroke="#000" stroke-width="2.1" />
<line x1="143.10" y1="755.42" x2="148.60" y2="755.42" stroke="#000" stroke-width="2.1" />
<line x1="776.70" y1="755.42" x2="771.20" y2="755.42" stroke="#000" stroke-width="2.1" />
<line x1="143.10" y1="724.25" x2="148.60" y2="724.25" stroke="#000" stroke-width="2.1" />
<line x1="776.70" y1="724.25" x2="771.20" y2="724.25" stroke="#000" stroke-width="2.1" />
<line x1="143.10" y1="1170.95" x2="148.60" y2="1170.95" stroke="#000" stroke-width="2.1" />
<line x1="776.70" y1="1170.95" x2="771.20" y2="1170.95" stroke="#000" stroke-width="2.1" />
<line x1="143.10" y1="1148.84" x2="148.60" y2="1148.84" stroke="#000" stroke-width="2.1" />
<line x1="776.70" y1="1148.84" x2="771.20" y2="1148.84" stroke="#000" stroke-width="2.1" />
<line x1="143.10" y1="1131.68" x2="148.60" y2="1131.68" stroke="#000" stroke-width="2.1" />
<line x1="776.70" y1="1131.68" x2="771.20" y2="1131.68" stroke="#000" stroke-width="2.1" />
<line x1="143.10" y1="1117.67" x2="148.60" y2="1117.67" stroke="#000" stroke-width="2.1" />
<line x1="776.70" y1="1117.67" x2="771.20" y2="1117.67" stroke="#000" stroke-width="2.1" />
<line x1="143.10" y1="1105.82" x2="148.60" y2="1105.82" stroke="#000" stroke-width="2.1" />
<line x1="776.70" y1="1105.82" x2="771.20" y2="1105.82" stroke="#000" stroke-width="2.1" />
<line x1="143.10" y1="1095.55" x2="148.60" y2="1095.55" stroke="#000" stroke-width="2.1" />
<line x1="776.70" y1="1095.55" x2="771.20" y2="1095.55" stroke="#000" stroke-width="2.1" />
<line x1="143.10" y1="1086.50" x2="148.60" y2="1086.50" stroke="#000" stroke-width="2.1" />
<line x1="776.70" y1="1086.50" x2="771.20" y2="1086.50" stroke="#000" stroke-width="2.1" />
<line x1="143.10" y1="1078.40" x2="153.10" y2="1078.40" stroke="#000" stroke-width="2.1" />
<line x1="776.70" y1="1078.40" x2="766.70" y2="1078.40" stroke="#000" stroke-width="2.1" />
<line x1="143.10" y1="1025.12" x2="148.60" y2="1025.12" stroke="#000" stroke-width="2.1" />
<line x1="776.70" y1="1025.12" x2="771.20" y2="1025.12" stroke="#000" stroke-width="2.1" />
<line x1="143.10" y1="993.95" x2="148.60" y2="993.95" stroke="#000" stroke-width="2.1" />
<line x1="776.70" y1="993.95" x2="771.20" y2="993.95" stroke="#000" stroke-width="2.1" />
<line x1="143.10" y1="971.84" x2="148.60" y2="971.84" stroke="#000" stroke-width="2.1" />
<line x1="776.70" y1="971.84" x2="771.20" y2="971.84" stroke="#000" stroke-width="2.1" />
<line x1="143.10" y1="954.68" x2="148.60" y2="954.68" stroke="#000" stroke-width="2.1" />
<line x1="776.70" y1="954.68" x2="771.20" y2="954.68" stroke="#000" stroke-width="2.1" />
<text x="128.66" y="819.60" font-family="Liberation Sans" font-size="38" text-anchor="end" >1</text>
<text x="57.92" y="1090.30" font-family="Liberation Sans" font-size="38" text-anchor="start" textLength="69.45" lengthAdjust="spacing" >0.01</text>
<text x="143.10" y="1211.80" font-family="Liberation Sans" font-size="38" text-anchor="middle" >0</text>
<text x="269.82" y="1211.80" font-family="Liberation Sans" font-size="38" text-anchor="middle" textLength="43.76" lengthAdjust="spacing" >10</text>
<text x="396.54" y="1211.80" font-family="Liberation Sans" font-size="38" text-anchor="middle" textLength="43.76" lengthAdjust="spacing" >20</text>
<text x="523.26" y="1211.80" font-family="Liberation Sans" font-size="38" text-anchor="middle" textLength="43.76" lengthAdjust="spacing" >30</text>
<text x="649.98" y="1211.80" font-family="Liberation Sans" font-size="38" text-anchor="middle" textLength="43.76" lengthAdjust="spacing" >40</text>
<text x="776.70" y="1211.80" font-family="Liberation Sans" font-size="38" text-anchor="middle" textLength="43.76" lengthAdjust="spacing" >50</text>
<text x="280.90" y="1269.50" font-family="Liberation Sans" font-size="46.3" text-anchor="start" >Particle size (nm)</text>
<text x="38.02" y="719.30" font-family="Liberation Sans" font-size="46.3" text-anchor="start" >b)</text>
<g transform="translate(40,1031) rotate(-90)"><text x="-2.51" y="0" font-family="Liberation Sans" font-size="45">i</text><text x="8.50" y="18.3" font-family="Liberation Sans" font-size="25.5">0</text><text x="31.21" y="0" font-family="Liberation Sans" font-size="45">(mA/</text><text x="125.42" y="0" font-family="Liberation Sans" font-size="45">µ</text><text x="151.61" y="0" font-family="Liberation Sans" font-size="45">g</text><text x="176.34" y="18.6" font-family="Liberation Sans" font-size="26.3" textLength="33.9" lengthAdjust="spacing">Pd</text><text x="211.74" y="0" font-family="Liberation Sans" font-size="45">)</text></g>
<text x="563.23" y="848.60" font-family="Liberation Sans" font-size="32.5" text-anchor="start" >0.1 M HClO</text>
<text x="732.66" y="860.80" font-family="Liberation Sans" font-size="19" text-anchor="start" >4</text>
<text x="573.73" y="1089.80" font-family="Liberation Sans" font-size="32.5" text-anchor="start" >0.1 M KOH</text>
<line x1="186.20" y1="754.50" x2="186.20" y2="771.00" stroke="#000" stroke-width="2.7" />
<line x1="181.50" y1="754.50" x2="190.90" y2="754.50" stroke="#000" stroke-width="3.0" stroke-linecap="round"/>
<line x1="181.50" y1="771.00" x2="190.90" y2="771.00" stroke="#000" stroke-width="3.0" stroke-linecap="round"/>
<rect x="179.00" y="755.50" width="14.4" height="14.4" rx="1.6" fill="#000"/>
<line x1="197.50" y1="738.50" x2="197.50" y2="756.00" stroke="#000" stroke-width="2.7" />
<line x1="192.80" y1="738.50" x2="202.20" y2="738.50" stroke="#000" stroke-width="3.0" stroke-linecap="round"/>
<line x1="192.80" y1="756.00" x2="202.20" y2="756.00" stroke="#000" stroke-width="3.0" stroke-linecap="round"/>
<rect x="190.30" y="740.00" width="14.4" height="14.4" rx="1.6" fill="#000"/>
<line x1="233.00" y1="781.40" x2="233.00" y2="804.00" stroke="#000" stroke-width="2.7" />
<line x1="228.30" y1="781.40" x2="237.70" y2="781.40" stroke="#000" stroke-width="3.0" stroke-linecap="round"/>
<line x1="228.30" y1="804.00" x2="237.70" y2="804.00" stroke="#000" stroke-width="3.0" stroke-linecap="round"/>
<rect x="225.80" y="784.80" width="14.4" height="14.4" rx="1.6" fill="#000"/>
<line x1="385.40" y1="792.40" x2="385.40" y2="822.70" stroke="#000" stroke-width="2.7" />
<line x1="380.70" y1="792.40" x2="390.10" y2="792.40" stroke="#000" stroke-width="3.0" stroke-linecap="round"/>
<line x1="380.70" y1="822.70" x2="390.10" y2="822.70" stroke="#000" stroke-width="3.0" stroke-linecap="round"/>
<rect x="378.20" y="798.70" width="14.4" height="14.4" rx="1.6" fill="#000"/>
<line x1="680.10" y1="882.00" x2="680.10" y2="906.30" stroke="#000" stroke-width="2.7" />
<line x1="675.40" y1="882.00" x2="684.80" y2="882.00" stroke="#000" stroke-width="3.0" stroke-linecap="round"/>
<line x1="675.40" y1="906.30" x2="684.80" y2="906.30" stroke="#000" stroke-width="3.0" stroke-linecap="round"/>
<rect x="672.90" y="886.00" width="14.4" height="14.4" rx="1.6" fill="#000"/>
<rect x="180.20" y="969.20" width="10.6" height="10.6" rx="1" fill="#fff" stroke="#000" stroke-width="3.9"/>
<rect x="192.50" y="965.20" width="10.6" height="10.6" rx="1" fill="#fff" stroke="#000" stroke-width="3.9"/>
<rect x="227.90" y="980.20" width="10.6" height="10.6" rx="1" fill="#fff" stroke="#000" stroke-width="3.9"/>
<rect x="380.00" y="1017.30" width="10.6" height="10.6" rx="1" fill="#fff" stroke="#000" stroke-width="3.9"/>
<rect x="674.90" y="1120.10" width="10.6" height="10.6" rx="1" fill="#fff" stroke="#000" stroke-width="3.9"/>
<line x1="181.00" y1="982.80" x2="190.00" y2="982.80" stroke="#000" stroke-width="3" stroke-linecap="round"/>
<line x1="233.20" y1="981.50" x2="233.20" y2="989.50" stroke="#000" stroke-width="2.2" />
<line x1="229.50" y1="985.50" x2="237.00" y2="985.50" stroke="#000" stroke-width="2.2" />
</svg></body></html>
